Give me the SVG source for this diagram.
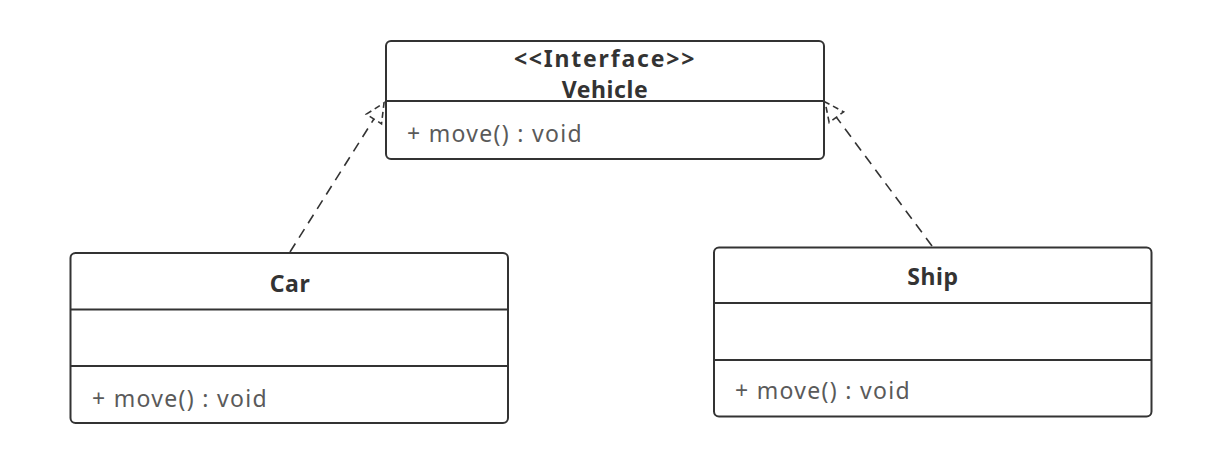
<svg xmlns="http://www.w3.org/2000/svg" width="1223" height="461" viewBox="0 0 1223 461">
<style>
.box{fill:#fff;stroke:#333;stroke-width:2}
.sep{stroke:#333;stroke-width:2}
.title{font-family:"Noto Sans","Open Sans",sans-serif;font-weight:bold;font-size:23px;letter-spacing:0.6px;fill:#333;text-anchor:middle}
.op{font-family:"Noto Sans","Open Sans",sans-serif;font-size:23px;letter-spacing:1.3px;fill:#5a5a5a}
.dash{fill:none;stroke:#333;stroke-width:1.6;stroke-dasharray:10 7}
</style>
<defs>
<marker id="real" markerUnits="userSpaceOnUse" markerWidth="30" markerHeight="30" refX="0" refY="0" orient="auto" overflow="visible">
<path d="M0,-9 L19,0 L0,9 Z" fill="#fff" stroke="#333" stroke-width="1.6" stroke-dasharray="6 4"/>
</marker>
</defs>
<rect width="1223" height="461" fill="#fff"/>
<g id="connectors">
<path class="dash" d="M290,252 L373.9,119" marker-end="url(#real)"/>
<path class="dash" d="M932,246 L836.4,117.2" marker-end="url(#real)"/>
</g>
<g id="vehicle">
<rect class="box" x="386" y="41" width="438" height="118" rx="5"/>
<line class="sep" x1="386" y1="101" x2="824" y2="101"/>
<text class="title" x="605" y="67" style="letter-spacing:1.8px">&lt;&lt;Interface&gt;&gt;</text>
<text class="title" x="605" y="98">Vehicle</text>
<text class="op" x="407" y="142">+ move() : void</text>
</g>
<g id="car">
<rect class="box" x="70.5" y="253" width="437.5" height="170" rx="5"/>
<line class="sep" x1="70.5" y1="309.5" x2="508" y2="309.5"/>
<line class="sep" x1="70.5" y1="366" x2="508" y2="366"/>
<text class="title" x="290" y="292">Car</text>
<text class="op" x="92" y="407">+ move() : void</text>
</g>
<g id="ship">
<rect class="box" x="714" y="247.5" width="437.5" height="169" rx="5"/>
<line class="sep" x1="714" y1="303" x2="1151.5" y2="303"/>
<line class="sep" x1="714" y1="360" x2="1151.5" y2="360"/>
<text class="title" x="933" y="285">Ship</text>
<text class="op" x="735" y="399">+ move() : void</text>
</g>
</svg>
